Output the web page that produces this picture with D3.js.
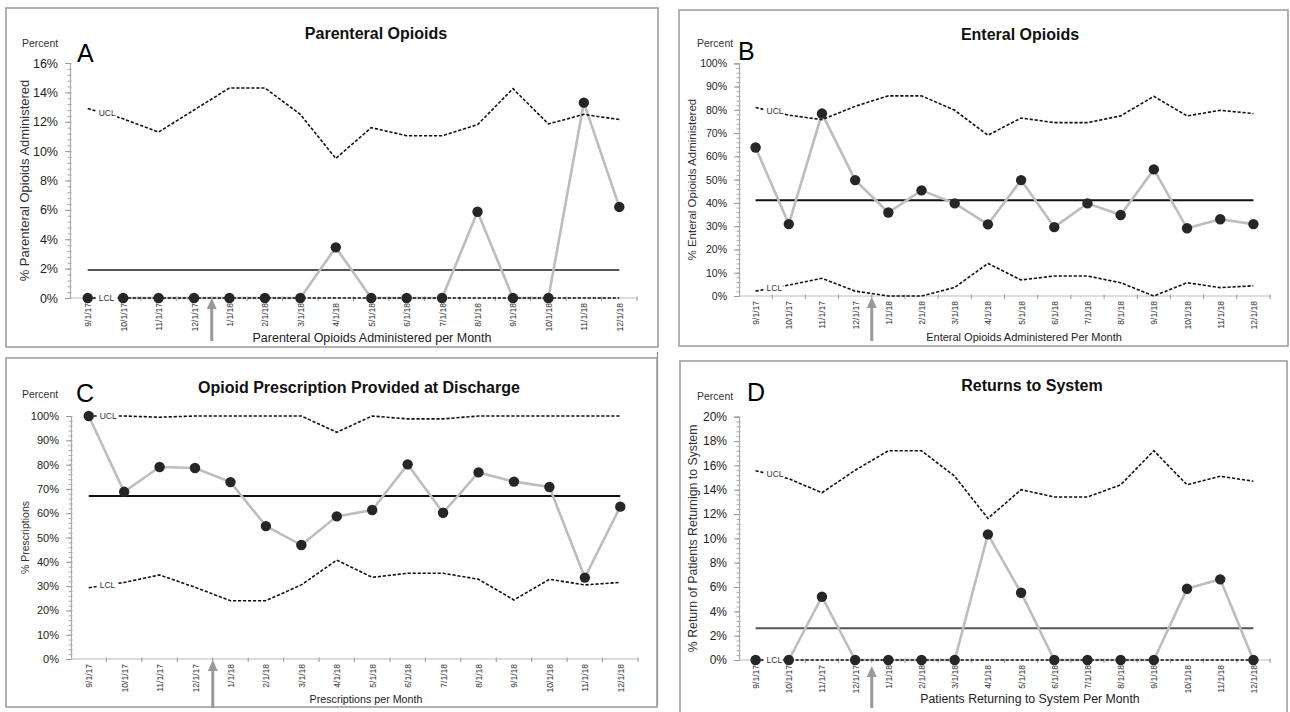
<!DOCTYPE html>
<html>
<head>
<meta charset="utf-8">
<script src="https://cdn.jsdelivr.net/npm/d3@7"></script>
<style>
  html, body { margin: 0; padding: 0; background: #fff; }
  svg { display: block; font-family: "Liberation Sans", Arial, sans-serif; }
</style>
</head>
<body>
<svg id="chart" width="1290" height="712"></svg>
<script>
// ---------- DATA ----------
const months = ["9/1/17","10/1/17","11/1/17","12/1/17","1/1/18","2/1/18","3/1/18","4/1/18",
                "5/1/18","6/1/18","7/1/18","8/1/18","9/1/18","10/1/18","11/1/18","12/1/18"];

// A: Parenteral Opioids (%)
const parenteralValues = [0,0,0,0,0,0,0,3.45,0,0,0,5.87,0,0,13.3,6.2];
const parenteralUCL    = [12.9,12.2,11.3,12.8,14.3,14.3,12.5,9.5,11.6,11.05,11.05,11.8,14.25,11.85,12.5,12.15];
const parenteralLCL    = [0,0,0,0,0,0,0,0,0,0,0,0,0,0,0,0];
const parenteralCL     = 1.9;
const parenteralTicks  = [0,2,4,6,8,10,12,14,16];

// B: Enteral Opioids (%)
const enteralValues = [63.8,30.9,78.4,49.8,35.9,45.4,39.8,30.8,49.8,29.6,39.8,34.8,54.4,29.1,33.0,30.9];
const enteralUCL    = [81,77.7,75.8,81.5,86,86,79.8,69.1,76.5,74.5,74.5,77.4,85.8,77.4,79.8,78.4];
const enteralLCL    = [2.1,4.7,7.6,2.1,0,0,3.7,14,6.9,8.6,8.6,5.7,0,5.7,3.6,4.4];
const enteralCL     = 41.2;
const enteralTicks  = [0,10,20,30,40,50,60,70,80,90,100];

// C: Opioid Prescription Provided at Discharge (%)
const prescriptionValues = [100,68.8,79,78.6,72.8,54.7,46.9,58.7,61.3,80.1,60.2,76.8,73,70.8,33.5,62.7];
const prescriptionUCL    = [100,100,99.5,100,100,100,100,93.3,100,98.8,98.8,100,100,100,100,100];
const prescriptionLCL    = [29.3,31.5,34.6,29.5,24,24,30.5,40.7,33.6,35.3,35.3,32.8,24.3,32.8,30.5,31.5];
const prescriptionCL     = 67.1;
const prescriptionTicks  = [0,10,20,30,40,50,60,70,80,90,100];

// D: Returns to System (%)
const returnsValues = [0,0,5.2,0,0,0,0,10.33,5.53,0,0,0,0,5.86,6.63,0];
const returnsUCL    = [15.56,14.9,13.75,15.6,17.2,17.2,15.1,11.64,14.0,13.4,13.4,14.4,17.2,14.4,15.1,14.7];
const returnsLCL    = [0,0,0,0,0,0,0,0,0,0,0,0,0,0,0,0];
const returnsCL     = 2.6;
const returnsTicks  = [0,2,4,6,8,10,12,14,16,18,20];

// ---------- PANELS ----------
const panels = [
  { letter:"A", title:"Parenteral Opioids", ytitle:"% Parenteral Opioids Administered",
    xtitle:"Parenteral Opioids Administered per Month",
    values:parenteralValues, ucl:parenteralUCL, lcl:parenteralLCL, cl:parenteralCL, ticks:parenteralTicks,
    frame:[6,8,652,339], plot:{l:70,r:637,t:63,b:298},
    titleX:376, titleY:39, letterX:77, letterY:62, percentX:22, percentY:47,
    ytX:29, ytSize:13, tickSize:12.5, xtX:372, xtY:342, xtSize:12.5, arrowTip:298, arrowBot:341, clColor:"#555" },
  { letter:"B", title:"Enteral Opioids", ytitle:"% Enteral Opioids Administered",
    xtitle:"Enteral Opioids Administered Per Month",
    values:enteralValues, ucl:enteralUCL, lcl:enteralLCL, cl:enteralCL, ticks:enteralTicks,
    frame:[679,10,609,336], plot:{l:739,r:1270,t:63.3,b:296},
    titleX:1020, titleY:40, letterX:738, letterY:60, percentX:697, percentY:47,
    ytX:696, ytSize:11.5, tickSize:10.5, xtX:1024, xtY:341, xtSize:11, arrowTip:297, arrowBot:341, clColor:"#111" },
  { letter:"C", title:"Opioid Prescription Provided at Discharge", ytitle:"% Prescriptions",
    xtitle:"Prescriptions per Month",
    values:prescriptionValues, ucl:prescriptionUCL, lcl:prescriptionLCL, cl:prescriptionCL, ticks:prescriptionTicks,
    frame:[6,358,651,349], plot:{l:71,r:638,t:416,b:659},
    titleX:359, titleY:393, letterX:76, letterY:402, percentX:22, percentY:398,
    ytX:29, ytSize:10.5, tickSize:11, xtX:366, xtY:703, xtSize:10.7, arrowTip:660, arrowBot:708, clColor:"#111" },
  { letter:"D", title:"Returns to System", ytitle:"% Return of Patients Returnign to System",
    xtitle:"Patients Returning to System Per Month",
    values:returnsValues, ucl:returnsUCL, lcl:returnsLCL, cl:returnsCL, ticks:returnsTicks,
    frame:[680,361,607,360], plot:{l:739,r:1270,t:416.7,b:660},
    titleX:1032, titleY:391, letterX:747, letterY:401, percentX:697, percentY:400,
    ytX:697, ytSize:12.3, tickSize:12, xtX:1030, xtY:703, xtSize:12.3, arrowTip:666, arrowBot:708, clColor:"#555" }
];

const svg = d3.select("#chart");

// separating vertical line seen between C and D
svg.append("line").attr("x1",657.5).attr("x2",657.5).attr("y1",352).attr("y2",705)
   .attr("stroke","#888").attr("stroke-width",1.2);

panels.forEach(p => {
  const g = svg.append("g");
  // frame
  g.append("rect").attr("x",p.frame[0]).attr("y",p.frame[1]).attr("width",p.frame[2]).attr("height",p.frame[3])
    .attr("fill","none").attr("stroke","#999").attr("stroke-width",1.5);

  const x = d3.scalePoint().domain(months).range([p.plot.l,p.plot.r]).padding(0.5);
  const yMax = p.ticks[p.ticks.length-1];
  const y = d3.scaleLinear().domain([0,yMax]).range([p.plot.b,p.plot.t]);
  const step = x.step();

  // Y axis
  const major = p.ticks[1]-p.ticks[0];
  const minorVals = d3.range(0, yMax+1e-9, major/5);
  const yMinor = g.append("g").attr("transform",`translate(${p.plot.l},0)`)
    .call(d3.axisLeft(y).tickValues(minorVals).tickSize(2.5).tickFormat(""));
  yMinor.select(".domain").remove();
  yMinor.selectAll(".tick line").attr("stroke","#aaa").attr("x2",-2.5).attr("x1",1.5);
  const yAx = g.append("g").attr("transform",`translate(${p.plot.l},0)`)
    .call(d3.axisLeft(y).tickValues(p.ticks).tickSize(5).tickPadding(7).tickFormat(d => d+"%"));
  yAx.select(".domain").attr("stroke","#aaa").attr("stroke-width",1.2);
  yAx.selectAll(".tick line").attr("stroke","#999");
  yAx.selectAll("text").attr("fill","#222").style("font-size",p.tickSize+"px")
     .style("font-family","'Liberation Sans', Arial, sans-serif");

  // X axis
  const xAx = g.append("g").attr("transform",`translate(0,${p.plot.b})`)
    .call(d3.axisBottom(x).tickSize(0).tickPadding(0));
  xAx.select(".domain").attr("stroke","#bbb").attr("stroke-width",1.2)
     .attr("d",`M${p.plot.l},0H${p.plot.r + 1}`);
  xAx.selectAll("text").attr("transform","rotate(-90)").attr("x",-5).attr("y",0).attr("dy","0.35em")
     .style("text-anchor","end").style("font-size","8.5px").attr("fill","#333")
     .style("font-family","'Liberation Sans', Arial, sans-serif");
  // category boundary ticks
  const bounds = months.map(m => x(m)+step/2);
  g.append("g").selectAll("line").data(bounds).join("line")
    .attr("x1",d=>d).attr("x2",d=>d).attr("y1",p.plot.b-1.5).attr("y2",p.plot.b+3)
    .attr("stroke","#999").attr("stroke-width",1);

  // centre line
  g.append("line").attr("x1",x(months[0])).attr("x2",x(months[months.length-1]))
    .attr("y1",y(p.cl)).attr("y2",y(p.cl)).attr("stroke",p.clColor).attr("stroke-width",2);

  const lineGen = d3.line().x((d,i)=>x(months[i])).y(d=>y(d));

  // data series line (under the limits)
  g.append("path").attr("d",lineGen(p.values)).attr("fill","none").attr("stroke","#bdbdbd").attr("stroke-width",2.6);

  // control limits
  [p.ucl,p.lcl].forEach(arr => {
    g.append("path").attr("d",lineGen(arr)).attr("fill","none").attr("stroke","#111")
      .attr("stroke-width",1.6).attr("stroke-dasharray","3.2,1.8");
  });
  // limit labels
  [["UCL",p.ucl],["LCL",p.lcl]].forEach(([lab,arr]) => {
    const x0 = x(months[0]), x1 = x(months[1]);
    const yy = y(arr[0]*0.55 + arr[1]*0.45);
    g.append("rect").attr("x",x0+8).attr("y",yy-5).attr("width",(x1-x0)-14).attr("height",10).attr("fill","#fff");
    g.append("text").attr("x",x0+11).attr("y",yy).attr("dy","0.35em").text(lab)
      .style("font-size","8.5px").attr("fill","#333");
  });

  // dots
  g.append("g").selectAll("circle").data(p.values).join("circle")
    .attr("cx",(d,i)=>x(months[i])).attr("cy",d=>y(d)).attr("r",5.2).attr("fill","#262626");

  // arrow (intervention between 12/1/17 and 1/1/18)
  const ax = (x(months[3])+x(months[4]))/2;
  g.append("line").attr("x1",ax).attr("x2",ax).attr("y1",p.arrowTip+9).attr("y2",p.arrowBot)
    .attr("stroke","#999").attr("stroke-width",3);
  g.append("path").attr("d",`M${ax},${p.arrowTip} L${ax-5},${p.arrowTip+11} L${ax+5},${p.arrowTip+11} Z`).attr("fill","#999");

  // texts
  g.append("text").attr("x",p.titleX).attr("y",p.titleY).attr("text-anchor","middle")
    .style("font-size","16px").style("font-weight","bold").attr("fill","#111").text(p.title);
  g.append("text").attr("x",p.letterX).attr("y",p.letterY)
    .style("font-size","25px").attr("fill","#000").text(p.letter);
  g.append("text").attr("x",p.percentX).attr("y",p.percentY)
    .style("font-size","10.5px").attr("fill","#333").text("Percent");
  g.append("text").attr("transform",`translate(${p.ytX},${(p.plot.t+p.plot.b)/2}) rotate(-90)`)
    .attr("text-anchor","middle").style("font-size",p.ytSize+"px").attr("fill","#333").text(p.ytitle);
  g.append("text").attr("x",p.xtX).attr("y",p.xtY).attr("text-anchor","middle")
    .style("font-size",p.xtSize+"px").attr("fill","#222").text(p.xtitle);
});
</script>
</body>
</html>
